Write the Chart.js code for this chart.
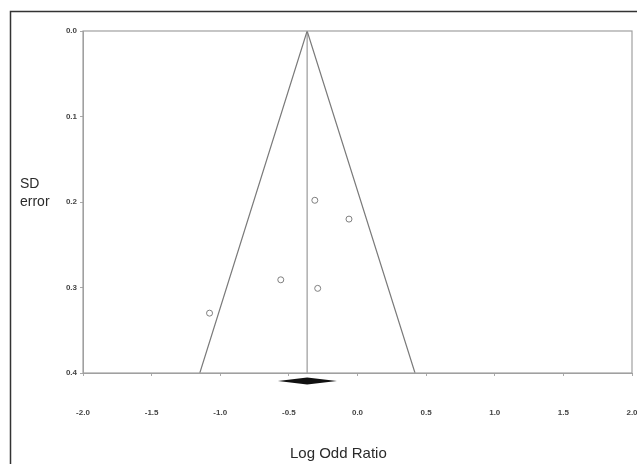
<!DOCTYPE html>
<html>
<head>
<meta charset="utf-8">
<script src="https://cdn.jsdelivr.net/npm/chart.js@4/dist/chart.umd.min.js"></script>
<style>
  html, body { margin: 0; padding: 0; background: #fff; }
  #wrap { position: relative; width: 637px; height: 464px; overflow: hidden; }
  canvas { position: absolute; left: 0; top: 0; }
  .lbl { position: absolute; font-family: "Liberation Sans", Arial, sans-serif; color: #2a2a2a; white-space: nowrap; }
  #ylab { left: 20px; top: 174px; font-size: 14px; line-height: 18px; }
  #xlab { left: 290px; top: 444px; font-size: 15px; line-height: 18px; }
</style>
</head>
<body>
<div id="wrap">
  <canvas id="c" width="637" height="464"></canvas>
  <div class="lbl" id="ylab">SD<br>error</div>
  <div class="lbl" id="xlab">Log Odd Ratio</div>
</div>
<script>
// ---- data ----
const studyLogOR = [-0.311, -0.062, -0.559, -0.290, -1.078];
const studySE    = [0.198, 0.220, 0.291, 0.301, 0.330];
const pooledLogOR = -0.367;
const funnelX = [-1.149, -0.367, 0.419];
const funnelY = [0.4, 0.0, 0.4];
const diamondX = [-0.58, -0.367, -0.15]; // lower CI, pooled, upper CI
const xTicks = [-2.0, -1.5, -1.0, -0.5, 0.0, 0.5, 1.0, 1.5, 2.0];
const yTicks = [0.0, 0.1, 0.2, 0.3, 0.4];

const points = studyLogOR.map((x, i) => ({ x: x, y: studySE[i] }));
const funnel = funnelX.map((x, i) => ({ x: x, y: funnelY[i] }));
const vline = [{ x: pooledLogOR, y: 0 }, { x: pooledLogOR, y: 0.4 }];

const framePlugin = {
  id: 'frame',
  beforeDraw(chart) {
    const ctx = chart.ctx;
    ctx.save();
    ctx.fillStyle = '#fff';
    ctx.fillRect(0, 0, chart.width, chart.height);
    ctx.strokeStyle = '#333';
    ctx.lineWidth = 1.5;
    ctx.beginPath();
    ctx.moveTo(10.5, chart.height);
    ctx.lineTo(10.5, 11.5);
    ctx.lineTo(chart.width, 11.5);
    ctx.stroke();
    ctx.restore();
  },
  afterDatasetsDraw(chart) {
    const ctx = chart.ctx;
    const a = chart.chartArea;
    ctx.save();
    ctx.strokeStyle = '#a0a0a0';
    ctx.lineWidth = 1.2;
    ctx.strokeRect(a.left, a.top, a.right - a.left, a.bottom - a.top);
    // summary diamond under the axis
    const xs = chart.scales.x;
    const x0 = xs.getPixelForValue(diamondX[0]);
    const xm = xs.getPixelForValue(diamondX[1]);
    const x1 = xs.getPixelForValue(diamondX[2]);
    const yc = a.bottom + 8;
    ctx.fillStyle = '#111';
    ctx.beginPath();
    ctx.moveTo(x0, yc);
    ctx.lineTo(xm, yc - 3.5);
    ctx.lineTo(x1, yc);
    ctx.lineTo(xm, yc + 3.5);
    ctx.closePath();
    ctx.fill();
    ctx.restore();
  }
};

new Chart(document.getElementById('c'), {
  type: 'scatter',
  data: {
    datasets: [
      { data: funnel, showLine: true, borderColor: '#7a7a7a', borderWidth: 1.2, pointRadius: 0, fill: false, tension: 0 },
      { data: vline, showLine: true, borderColor: '#9a9a9a', borderWidth: 1.2, pointRadius: 0, fill: false },
      { data: points, showLine: false, pointRadius: 3, pointBorderWidth: 1, pointBorderColor: '#808080', pointBackgroundColor: '#fff' }
    ]
  },
  plugins: [framePlugin],
  options: {
    responsive: false,
    animation: false,
    events: [],
    layout: { padding: { left: 0, right: 4, top: 31, bottom: 0 } },
    plugins: { legend: { display: false }, tooltip: { enabled: false } },
    scales: {
      x: {
        type: 'linear', min: -2, max: 2,
        afterBuildTicks: (s) => { s.ticks = xTicks.map(v => ({ value: v })); },
        afterFit: (s) => { s.height = 91; s.paddingLeft = 0; s.paddingRight = 0; },
        grid: { display: true, drawOnChartArea: false, drawTicks: true, tickLength: 3, color: '#aaa' },
        border: { display: true, color: '#a0a0a0' },
        ticks: {
          padding: 32, maxRotation: 0, autoSkip: false,
          color: '#444', font: { family: 'Liberation Sans', size: 8, weight: 'bold' },
          callback: (v) => Number(v).toFixed(1)
        }
      },
      y: {
        type: 'linear', min: 0, max: 0.4, reverse: true,
        afterBuildTicks: (s) => { s.ticks = yTicks.map(v => ({ value: v })); },
        afterFit: (s) => { s.width = 83; },
        grid: { display: true, drawOnChartArea: false, drawTicks: true, tickLength: 3, color: '#aaa' },
        border: { display: true, color: '#a0a0a0' },
        ticks: {
          padding: 3, autoSkip: false,
          color: '#444', font: { family: 'Liberation Sans', size: 8, weight: 'bold' },
          callback: (v) => Number(v).toFixed(1)
        }
      }
    }
  }
});
</script>
</body>
</html>
